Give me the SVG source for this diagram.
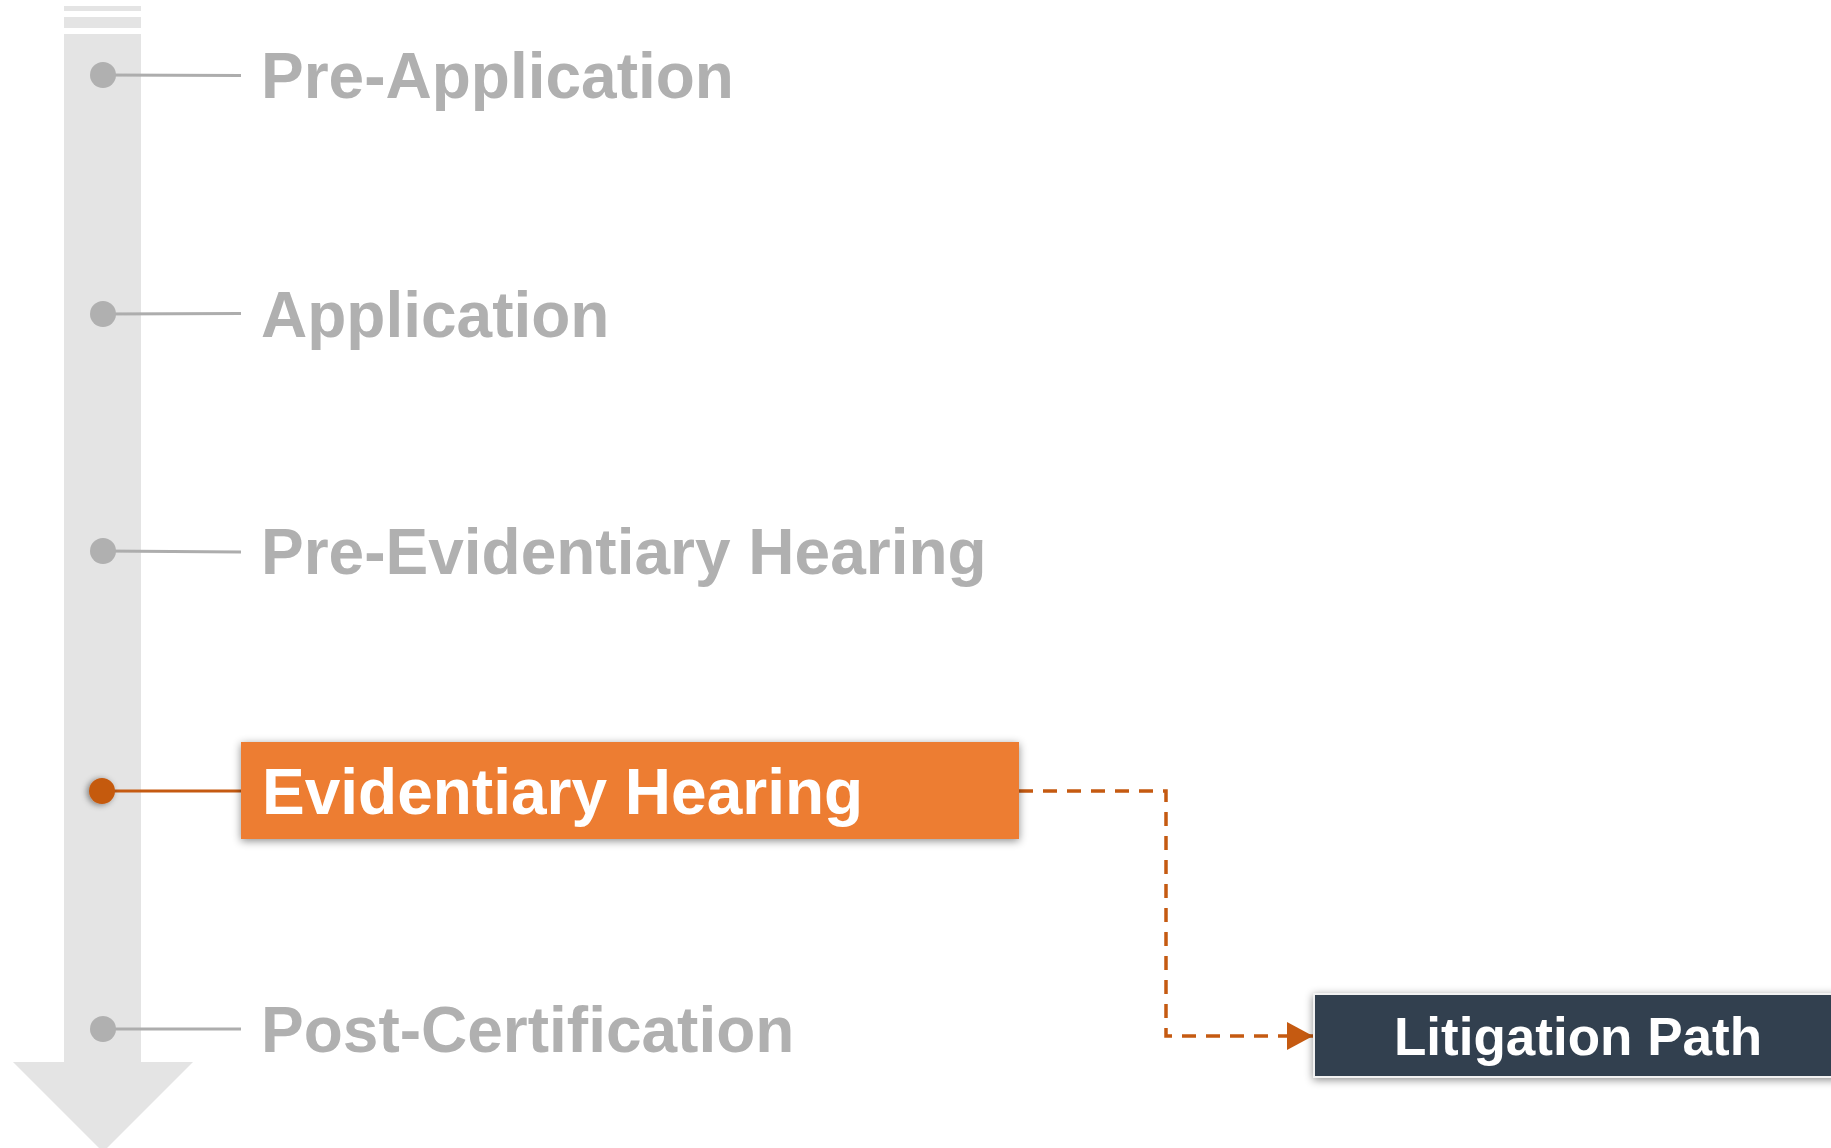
<svg xmlns="http://www.w3.org/2000/svg" width="1831" height="1148" viewBox="0 0 1831 1148">
<style>
.lbl{font-family:"Liberation Sans",Arial,sans-serif;font-weight:bold;font-size:64px;fill:#B0B0B0}
.wht{font-family:"Liberation Sans",Arial,sans-serif;font-weight:bold;fill:#FFFFFF}
.gline{stroke:#ADADAD;stroke-width:3;fill:none}
.gdot{fill:#B0B0B0}
.track{fill:#E4E4E4}
</style>
<defs>
<filter id="sh" x="-10%" y="-30%" width="120%" height="160%">
<feDropShadow dx="0" dy="2" stdDeviation="4" flood-color="#000" flood-opacity="0.45"/>
</filter>
<filter id="shd" x="-100%" y="-100%" width="300%" height="300%">
<feDropShadow dx="-2" dy="1" stdDeviation="3" flood-color="#000" flood-opacity="0.45"/>
</filter>
<marker id="arr" markerWidth="26" markerHeight="28" refX="26" refY="14" orient="auto" markerUnits="userSpaceOnUse">
<path d="M0,0 L26,14 L0,28 Z" fill="#C55A11"/>
</marker>
</defs>
<g id="timeline-arrow">
<rect class="track" x="64" y="6" width="77" height="5"/>
<rect class="track" x="64" y="17" width="77" height="11"/>
<rect class="track" x="64" y="34" width="77" height="1030"/>
<polygon class="track" points="13,1062 193,1062 103,1152"/>
</g>
<g id="connectors">
<line class="gline" x1="103" y1="75" x2="241" y2="75.5"/>
<line class="gline" x1="103" y1="314" x2="241" y2="313.5"/>
<line class="gline" x1="103" y1="551" x2="241" y2="552"/>
<line x1="103" y1="791" x2="241" y2="791" stroke="#C55A11" stroke-width="3"/>
<line class="gline" x1="103" y1="1029" x2="241" y2="1029"/>
<path d="M1019,791 H1166 V1036 H1313" fill="none" stroke="#C55A11" stroke-width="3.5" stroke-dasharray="14,10" marker-end="url(#arr)"/>
</g>
<g id="pre-application">
<circle class="gdot" cx="103" cy="75" r="13"/>
<text class="lbl" x="261" y="98">Pre-Application</text>
</g>
<g id="application">
<circle class="gdot" cx="103" cy="314" r="13"/>
<text class="lbl" x="261" y="337">Application</text>
</g>
<g id="pre-evidentiary-hearing">
<circle class="gdot" cx="103" cy="551" r="13"/>
<text class="lbl" x="261" y="574">Pre-Evidentiary Hearing</text>
</g>
<g id="evidentiary-hearing">
<circle cx="102" cy="791" r="13" fill="#C55A11" filter="url(#shd)"/>
<rect x="241" y="742" width="778" height="97" fill="#ED7D31" filter="url(#sh)"/>
<text class="wht" x="262" y="814" font-size="64">Evidentiary Hearing</text>
</g>
<g id="post-certification">
<circle class="gdot" cx="103" cy="1029" r="13"/>
<text class="lbl" x="261" y="1052">Post-Certification</text>
</g>
<g id="litigation-path">
<rect x="1314" y="994" width="530" height="83" fill="#333F50" stroke="#F2F2F2" stroke-width="2" filter="url(#sh)"/>
<text class="wht" x="1578" y="1055" font-size="53" text-anchor="middle">Litigation Path</text>
</g>
</svg>
